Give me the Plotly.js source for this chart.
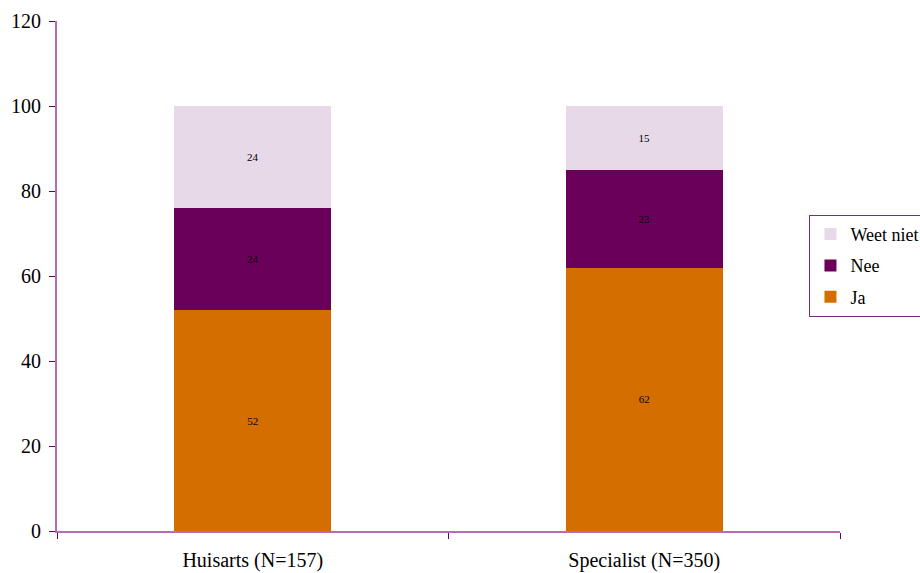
<!DOCTYPE html>
<html>
<head>
<meta charset="utf-8">
<script src="https://cdn.plot.ly/plotly-3.0.1.min.js"></script>
<style>
  html, body { margin: 0; padding: 0; background: #fff; }
  #chart { width: 920px; height: 573px; }
</style>
</head>
<body>
<div id="chart"></div>
<script>
// Groups on the x axis
const categories = ['Huisarts (N=157)', 'Specialist (N=350)'];
// Percentages per answer
const ja = [52, 62];
const nee = [24, 23];
const weetNiet = [24, 15];

const serif = 'Liberation Serif';
const axisColor = '#b56cb5';

function series(name, values, color, rank) {
  return {
    type: 'bar',
    name: name,
    legendgroup: name,
    legendrank: rank,
    x: categories,
    y: values,
    text: values.map(String),
    textposition: 'inside',
    insidetextanchor: 'middle',
    textangle: 0,
    constraintext: 'none',
    textfont: { family: serif, size: 11, color: '#000' },
    marker: { color: color, line: { width: 0 } },
    hoverinfo: 'skip'
  };
}

const data = [
  series('Ja', ja, '#d46e00', 3),
  series('Nee', nee, '#6b005a', 2),
  series('Weet niet', weetNiet, '#e8d9e8', 1)
];

const layout = {
  width: 920,
  height: 573,
  barmode: 'stack',
  bargap: 0.6,
  margin: { l: 57, r: 80, t: 21, b: 42, autoexpand: false },
  paper_bgcolor: '#fff',
  plot_bgcolor: '#fff',
  font: { family: serif, color: '#000' },
  showlegend: true,
  legend: {
    x: 0.961, y: 0.62,
    xanchor: 'left', yanchor: 'top',
    traceorder: 'grouped',
    tracegroupgap: 5,
    bordercolor: '#7a2a7a',
    borderwidth: 1,
    bgcolor: '#fff',
    font: { family: serif, size: 18, color: '#000' },
    itemwidth: 30
  },
  xaxis: {
    showline: true,
    linecolor: axisColor,
    linewidth: 2,
    ticks: 'outside',
    tickson: 'boundaries',
    ticklen: 6,
    tickcolor: '#6b005a',
    tickwidth: 1,
    ticklabelstandoff: 10,
    tickfont: { family: serif, size: 20, color: '#000' },
    showgrid: false,
    zeroline: false,
    fixedrange: true
  },
  yaxis: {
    range: [0, 120],
    dtick: 20,
    showline: true,
    linecolor: axisColor,
    linewidth: 2,
    ticks: 'outside',
    ticklen: 6,
    tickcolor: '#6b005a',
    tickwidth: 1,
    ticklabelstandoff: 4,
    tickfont: { family: serif, size: 20, color: '#000' },
    showgrid: false,
    zeroline: false,
    fixedrange: true
  }
};

Plotly.newPlot('chart', data, layout, { displayModeBar: false, staticPlot: true });
</script>
</body>
</html>
